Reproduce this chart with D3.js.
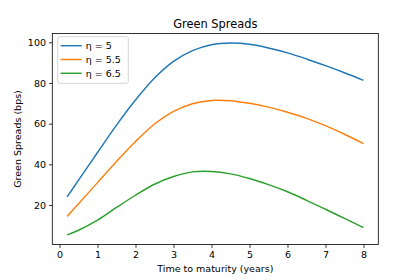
<!DOCTYPE html>
<html>
<head>
<meta charset="utf-8">
<script src="https://cdn.jsdelivr.net/npm/d3@7"></script>
<style>
  body { margin: 0; background: #fff; }
  text { font-family: "DejaVu Sans", sans-serif; fill: #000; }
</style>
</head>
<body>
<div id="viz"></div>
<script>
// maturities (years) and spreads (bps)
const maturity = [0.2, 0.5, 1, 1.5, 2, 2.5, 3, 3.5, 4, 4.5, 5, 5.5, 6, 6.5, 7, 7.5, 8];
const eta5   = [24, 32.2, 45.8, 59.3, 71.6, 82.4, 90.6, 95.9, 98.8, 99.6, 99, 97.2, 94.8, 91.8, 88.5, 85, 81.3];
const eta55  = [14.4, 20.6, 31, 41.4, 51.2, 59.8, 66, 69.8, 71.4, 71.3, 70, 68.1, 65.6, 62.6, 59, 54.8, 50.2];
const eta65  = [5.3, 7.6, 12.6, 18.8, 24.8, 30.2, 34, 36.3, 36.5, 35.3, 33, 30, 26.5, 22.3, 17.9, 13.4, 8.9];
const seriesNames = ["η = 5", "η = 5.5", "η = 6.5"];
const seriesColors = ["#1f77b4", "#ff7f0e", "#2ca02c"];
const xTicks = [0, 1, 2, 3, 4, 5, 6, 7, 8];
const yTicks = [20, 40, 60, 80, 100];

const series = [eta5, eta55, eta65].map((vals, i) => ({
  name: seriesNames[i],
  color: seriesColors[i],
  points: vals.map((v, j) => [maturity[j], v])
}));

const W = 420, H = 280;
const plotL = 52.3, plotR = 378.3, plotT = 33.5, plotB = 244.5;

const svg = d3.select("#viz").append("svg")
  .attr("width", W)
  .attr("height", H);

// matplotlib style 5% margins
const xMin = d3.min(maturity), xMax = d3.max(maturity);
const allY = eta5.concat(eta55, eta65);
const yMin = d3.min(allY), yMax = d3.max(allY);
const xPad = (xMax - xMin) * 0.05, yPad = (yMax - yMin) * 0.05;

const x = d3.scaleLinear().domain([xMin - xPad, xMax + xPad]).range([plotL, plotR]);
const y = d3.scaleLinear().domain([yMin - yPad, yMax + yPad]).range([plotB, plotT]);

const line = d3.line()
  .x(d => x(d[0]))
  .y(d => y(d[1]))
  .curve(d3.curveCatmullRom);

svg.selectAll("path.series")
  .data(series)
  .enter()
  .append("path")
  .attr("class", "series")
  .attr("d", d => line(d.points))
  .attr("fill", "none")
  .attr("stroke", d => d.color)
  .attr("stroke-width", 1.45);

// axes
const xAxis = svg.append("g")
  .attr("transform", `translate(0,${plotB})`)
  .call(d3.axisBottom(x).tickValues(xTicks).tickSize(3.3).tickPadding(3));
const yAxis = svg.append("g")
  .attr("transform", `translate(${plotL},0)`)
  .call(d3.axisLeft(y).tickValues(yTicks).tickSize(3.3).tickPadding(3));

[xAxis, yAxis].forEach(g => {
  g.select(".domain").remove();
  g.selectAll(".tick line").attr("stroke", "#000").attr("stroke-width", 0.8);
  g.selectAll(".tick text")
    .style("font-family", "DejaVu Sans")
    .style("font-size", "9.5px")
    .attr("fill", "#000");
});

// frame
svg.append("rect")
  .attr("x", plotL)
  .attr("y", plotT)
  .attr("width", plotR - plotL)
  .attr("height", plotB - plotT)
  .attr("fill", "none")
  .attr("stroke", "#000")
  .attr("stroke-width", 0.8);

// labels
svg.append("text")
  .attr("x", (plotL + plotR) / 2)
  .attr("y", 28)
  .attr("text-anchor", "middle")
  .style("font-size", "11.4px")
  .text("Green Spreads");

svg.append("text")
  .attr("x", (plotL + plotR) / 2)
  .attr("y", 271.5)
  .attr("text-anchor", "middle")
  .style("font-size", "9.5px")
  .text("Time to maturity (years)");

svg.append("text")
  .attr("transform", `translate(20.5,${(plotT + plotB) / 2}) rotate(-90)`)
  .attr("text-anchor", "middle")
  .style("font-size", "9.5px")
  .text("Green Spreads (bps)");

// legend
const legend = svg.append("g").attr("transform", "translate(57.7,36.7)");
legend.append("rect")
  .attr("width", 70.6)
  .attr("height", 46.6)
  .attr("rx", 2)
  .attr("fill", "#fff")
  .attr("fill-opacity", 0.8)
  .attr("stroke", "#ccc")
  .attr("stroke-width", 0.8);

series.forEach((s, i) => {
  const ly = 9 + i * 13.8;
  legend.append("line")
    .attr("x1", 3)
    .attr("x2", 24)
    .attr("y1", ly)
    .attr("y2", ly)
    .attr("stroke", s.color)
    .attr("stroke-width", 1.45);
  legend.append("text")
    .attr("x", 28)
    .attr("y", ly + 3.4)
    .style("font-size", "9.5px")
    .text(s.name);
});
</script>
</body>
</html>
